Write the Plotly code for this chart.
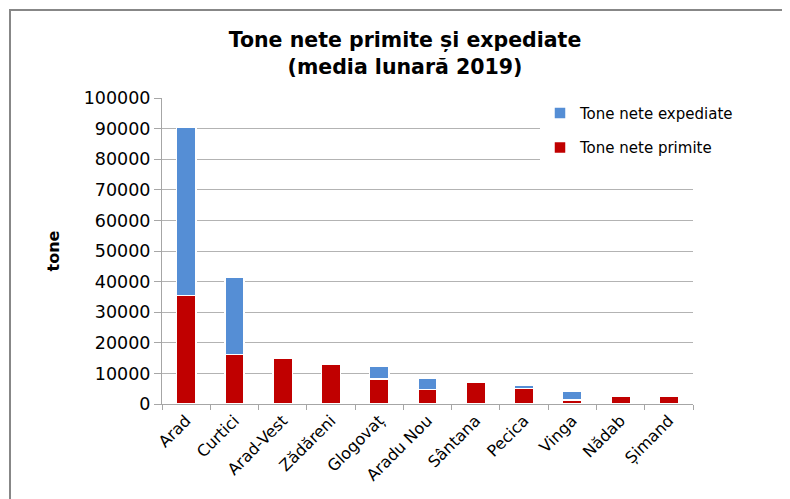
import plotly.graph_objects as go

categories = ["Arad", "Curtici", "Arad-Vest", "Zădăreni", "Glogovaț", "Aradu Nou",
              "Sântana", "Pecica", "Vinga", "Nădab", "Șimand"]
primite = [35500, 16200, 15100, 12900, 8200, 4700, 7000, 5100, 1300, 2600, 2600]
expediate = [55000, 25100, 0, 0, 4200, 3700, 0, 1100, 2800, 0, 0]
y_ticks = [0, 10000, 20000, 30000, 40000, 50000, 60000, 70000, 80000, 90000, 100000]

FONT = "DejaVu Sans"
# the page body adds an 8px margin; the figure is sized/placed to compensate
W, H = 782, 491
L, R, T, B = 154, 97, 90, 95
PW, PH = W - L - R, H - T - B

fig = go.Figure()
fig.add_trace(go.Bar(
    x=categories, y=primite, name="Tone nete primite",
    marker=dict(color="#C00000", line=dict(color="white", width=1.5)),
    legendgroup="a", legendrank=2,
))
fig.add_trace(go.Bar(
    x=categories, y=expediate, name="Tone nete expediate",
    marker=dict(color="#558ED5", line=dict(color="white", width=1.5)),
    legendgroup="b", legendrank=1,
))

fig.update_layout(
    width=W, height=H,
    barmode="stack", bargap=0.6,
    paper_bgcolor="white", plot_bgcolor="white",
    margin=dict(l=L, r=R, t=T, b=B, autoexpand=False),
    font=dict(family=FONT, color="black"),
    title=dict(
        text="<b>Tone nete primite și expediate<br>(media lunară 2019)</b>",
        x=(405 - 8) / W, xanchor="center", y=1 - 39 / H, yanchor="top",
        font=dict(family=FONT, size=20.5, color="black"),
    ),
    legend=dict(
        x=(532 - L) / PW, xanchor="left", y=1.004, yanchor="top",
        bgcolor="white", font=dict(family=FONT, size=15, color="black"),
        traceorder="grouped", tracegroupgap=12, itemwidth=30,
    ),
    showlegend=True,
)
fig.update_xaxes(
    type="category", tickangle=-45, tickfont=dict(family=FONT, size=16),
    showline=True, linecolor="#A6A6A6", linewidth=1,
    ticks="outside", tickson="boundaries", ticklen=5, tickcolor="#A6A6A6",
    showgrid=False, automargin=False,
)
fig.update_yaxes(
    range=[0, 100000], tickvals=y_ticks, ticktext=[str(v) for v in y_ticks],
    tickfont=dict(family=FONT, size=17.5),
    showline=True, linecolor="#A6A6A6", linewidth=1,
    ticks="outside", ticklen=7, tickcolor="#A6A6A6",
    showgrid=True, gridcolor="#B3B3B3", gridwidth=1,
    zeroline=False, automargin=False,
    title=dict(text="<b>tone</b>", font=dict(family=FONT, size=16), standoff=20),
)

# outer frame
fig.add_shape(type="rect", xref="paper", yref="paper",
              x0=(2 - L) / PW, x1=1.3, y0=-0.5, y1=(PH + T - 2) / PH,
              line=dict(color="#878787", width=2), fillcolor="rgba(0,0,0,0)", layer="above")

fig.write_html("out.html")
